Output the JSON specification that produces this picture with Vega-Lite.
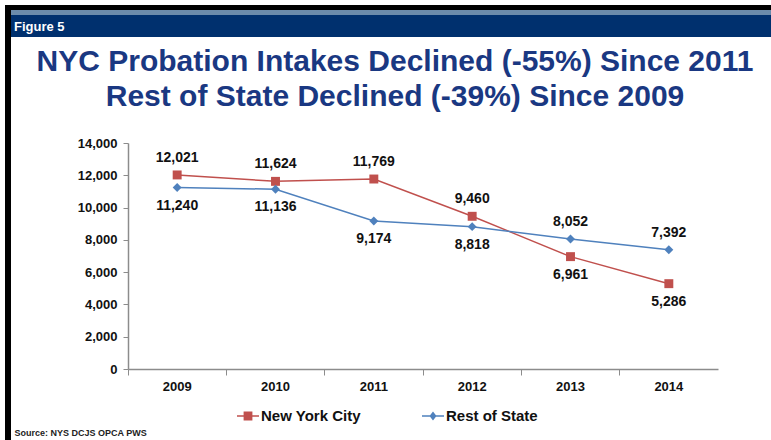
{
  "$schema": "https://vega.github.io/schema/vega-lite/v6.json",
  "width": 590,
  "height": 226,
  "autosize": {"type": "none"},
  "padding": {"left": 128, "top": 143, "right": 53, "bottom": 71},
  "background": "white",
  "config": {"view": {"stroke": null}, "font": "Liberation Sans"},
  "title": {
    "text": ["NYC Probation Intakes Declined (-55%) Since 2011", "Rest of State Declined (-39%) Since 2009"],
    "fontSize": 30,
    "font": "Liberation Sans",
    "fontWeight": "bold",
    "color": "#1a3882",
    "anchor": "middle",
    "dx": -28,
    "offset": -107,
    "lineHeight": 35
  },
  "datasets": {
    "intakes": [
      {"year": "2009", "series": "New York City", "intakes": 12021},
      {"year": "2010", "series": "New York City", "intakes": 11624},
      {"year": "2011", "series": "New York City", "intakes": 11769},
      {"year": "2012", "series": "New York City", "intakes": 9460},
      {"year": "2013", "series": "New York City", "intakes": 6961},
      {"year": "2014", "series": "New York City", "intakes": 5286},
      {"year": "2009", "series": "Rest of State", "intakes": 11240},
      {"year": "2010", "series": "Rest of State", "intakes": 11136},
      {"year": "2011", "series": "Rest of State", "intakes": 9174},
      {"year": "2012", "series": "Rest of State", "intakes": 8818},
      {"year": "2013", "series": "Rest of State", "intakes": 8052},
      {"year": "2014", "series": "Rest of State", "intakes": 7392}
    ]
  },
  "layer": [
    {"data": {"values": [{"part": "top"}]}, "mark": {"type": "rect", "x": -123, "x2": 643, "y": -138, "y2": -133, "color": "black"}, "encoding": {}},
    {"data": {"values": [{"part": "left"}]}, "mark": {"type": "rect", "x": -123, "x2": -117, "y": -138, "y2": 297, "color": "black"}, "encoding": {}},
    {"data": {"values": [{"part": "stripe"}]}, "mark": {"type": "rect", "x": -117, "x2": 643, "y": -133, "y2": -128, "color": "#6b8bab"}, "encoding": {}},
    {"data": {"values": [{"part": "header"}]}, "mark": {"type": "rect", "x": -117, "x2": 643, "y": -128, "y2": -106, "color": "#00306e"}, "encoding": {}},
    {"data": {"values": [{"label": "Figure 5"}]}, "mark": {"type": "text", "x": -114, "y": -116, "align": "left", "baseline": "middle", "font": "Liberation Sans", "fontSize": 13, "fontWeight": "bold", "color": "white"}, "encoding": {"text": {"field": "label"}}},
    {
      "data": {"name": "intakes"},
      "encoding": {
        "x": {
          "field": "year",
          "type": "ordinal",
          "scale": {"type": "band", "paddingInner": 0, "paddingOuter": 0},
          "axis": {
            "title": "Source: NYS DCJS OPCA PWS",
            "titleX": -114,
            "titleY": 63,
            "titleAlign": "left",
            "titleBaseline": "middle",
            "titleFont": "Liberation Sans",
            "titleFontSize": 9,
            "titleFontWeight": "bold",
            "titleColor": "#222",
            "labelAngle": 0,
            "labelFontSize": 13,
            "labelFontWeight": "bold",
            "labelColor": "#111",
            "labelPadding": 5,
            "bandPosition": 0,
            "domainColor": "#8c8c8c",
            "tickColor": "#8c8c8c",
            "tickSize": 6,
            "domainWidth": 1.5
          }
        },
        "y": {
          "field": "intakes",
          "type": "quantitative",
          "scale": {"domain": [0, 14000]},
          "axis": {
            "title": null,
            "values": [0, 2000, 4000, 6000, 8000, 10000, 12000, 14000],
            "format": ",d",
            "grid": false,
            "labelFontSize": 13,
            "labelFontWeight": "bold",
            "labelColor": "#111",
            "labelPadding": 6,
            "domainColor": "#8c8c8c",
            "tickColor": "#8c8c8c",
            "tickSize": 5,
            "domainWidth": 1.5
          }
        },
        "color": {
          "field": "series",
          "type": "nominal",
          "scale": {"domain": ["New York City", "Rest of State"], "range": ["#C0504D", "#4F81BD"]},
          "legend": {
            "title": null,
            "orient": "none",
            "legendX": 109,
            "legendY": 262,
            "direction": "horizontal",
            "padding": 0,
            "labelFontSize": 15,
            "labelFontWeight": "bold",
            "labelColor": "#111",
            "labelOffset": 2,
            "columnPadding": 61,
            "symbolSize": 484,
            "encode": {
              "symbols": {
                "update": {
                  "shape": {"signal": "datum.value === 'New York City' ? 'M-1,-0.07H1V0.07H-1Z M-0.4,-0.4H0.4V0.4H-0.4Z' : 'M-1,-0.07H1V0.07H-1Z M0,-0.4L0.32,0L0,0.4L-0.32,0Z'"},
                  "fill": {"signal": "datum.value === 'New York City' ? '#C0504D' : '#4F81BD'"},
                  "strokeWidth": {"value": 0},
                  "opacity": {"value": 1}
                }
              }
            }
          }
        }
      },
      "layer": [
        {"mark": {"type": "line", "strokeWidth": 1.5}},
        {
          "mark": {"type": "point", "filled": true, "opacity": 1, "size": 80},
          "encoding": {
            "shape": {"field": "series", "type": "nominal", "scale": {"range": ["square", "diamond"]}, "legend": null}
          }
        },
        {
          "transform": [{"filter": "(datum.series === 'New York City' && datum.year <= '2012') || (datum.series === 'Rest of State' && datum.year >= '2013')"}],
          "mark": {"type": "text", "dy": -17, "fontSize": 14, "fontWeight": "bold", "color": "#111", "baseline": "middle"},
          "encoding": {"text": {"field": "intakes", "type": "quantitative", "format": ",d"}, "color": {"value": "#111"}}
        },
        {
          "transform": [{"filter": "(datum.series === 'New York City' && datum.year >= '2013') || (datum.series === 'Rest of State' && datum.year <= '2012')"}],
          "mark": {"type": "text", "dy": 18, "fontSize": 14, "fontWeight": "bold", "color": "#111", "baseline": "middle"},
          "encoding": {"text": {"field": "intakes", "type": "quantitative", "format": ",d"}, "color": {"value": "#111"}}
        }
      ]
    }
  ]
}
